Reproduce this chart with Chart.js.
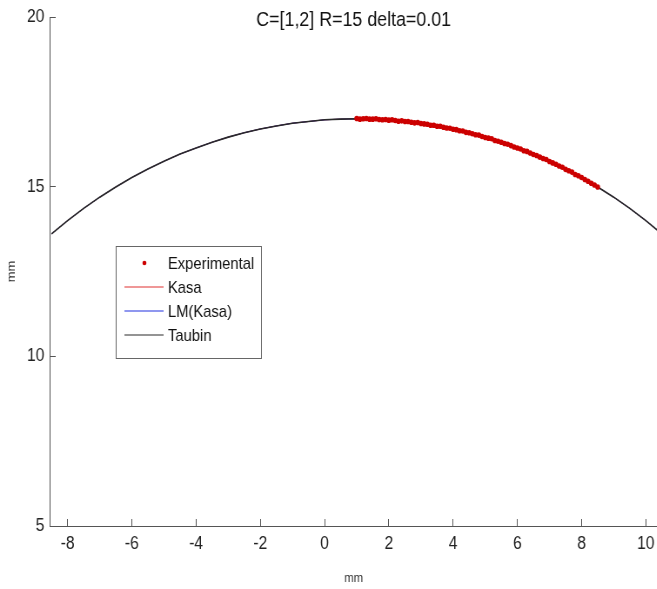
<!DOCTYPE html>
<html>
<head>
<meta charset="utf-8">
<script src="https://cdn.jsdelivr.net/npm/chart.js@4"></script>
<style>
  html, body { margin: 0; padding: 0; background: #fff; overflow: hidden; }
  #wrap { width: 657px; height: 589px; overflow: hidden; }
  /* the figure is drawn wide and squeezed horizontally */
  #fig { width: 760px; height: 589px; transform: scaleX(0.87); transform-origin: 0 0; }
</style>
</head>
<body>
<div id="wrap"><canvas id="fig" width="760" height="589"></canvas></div>
<script>
// Fitted circle curves (mm), sampled every 0.5 mm
const curveX = [-8.5, -8, -7.5, -7, -6.5, -6, -5.5, -5, -4.5, -4, -3.5, -3, -2.5, -2, -1.5, -1, -0.5, 0, 0.5,
  1, 1.5, 2, 2.5, 3, 3.5, 4, 4.5, 5, 5.5, 6, 6.5, 7, 7.5, 8, 8.5, 9, 9.5, 10, 10.5];
const kasaY = [13.61, 14.00, 14.36, 14.69, 14.99, 15.27, 15.52, 15.75, 15.96, 16.14, 16.31, 16.46, 16.59, 16.70, 16.79, 16.87, 16.92, 16.97, 16.99,
  17.00, 16.99, 16.97, 16.92, 16.87, 16.79, 16.70, 16.59, 16.46, 16.31, 16.14, 15.96, 15.75, 15.52, 15.27, 14.99, 14.69, 14.36, 14.00, 13.61];
const lmY = [13.61, 14.00, 14.36, 14.69, 14.99, 15.27, 15.52, 15.75, 15.96, 16.14, 16.31, 16.46, 16.59, 16.70, 16.79, 16.87, 16.92, 16.97, 16.99,
  17.00, 16.99, 16.97, 16.92, 16.87, 16.79, 16.70, 16.59, 16.46, 16.31, 16.14, 15.96, 15.75, 15.52, 15.27, 14.99, 14.69, 14.36, 14.00, 13.61];
const taubinY = [13.61, 14.00, 14.36, 14.69, 14.99, 15.27, 15.52, 15.75, 15.96, 16.14, 16.31, 16.46, 16.59, 16.70, 16.79, 16.87, 16.92, 16.97, 16.99,
  17.00, 16.99, 16.97, 16.92, 16.87, 16.79, 16.70, 16.59, 16.46, 16.31, 16.14, 15.96, 15.75, 15.52, 15.27, 14.99, 14.69, 14.36, 14.00, 13.61];

// Measured points on the arc
const expX = [1.0, 1.1, 1.2, 1.3, 1.4, 1.5, 1.6, 1.7, 1.8, 1.9, 2.0, 2.1, 2.2, 2.3, 2.4, 2.5, 2.6, 2.7, 2.8, 2.9,
  3.0, 3.1, 3.2, 3.3, 3.4, 3.5, 3.6, 3.7, 3.8, 3.9, 4.0, 4.1, 4.2, 4.3, 4.4, 4.5, 4.6, 4.7, 4.8, 4.9,
  5.0, 5.1, 5.2, 5.3, 5.4, 5.5, 5.6, 5.7, 5.8, 5.9, 6.0, 6.1, 6.2, 6.3, 6.4, 6.5, 6.6, 6.7, 6.8, 6.9,
  7.0, 7.1, 7.2, 7.3, 7.4, 7.5, 7.6, 7.7, 7.8, 7.9, 8.0, 8.1, 8.2, 8.3, 8.4, 8.5];
const expY = [17.01, 16.99, 17.00, 17.01, 16.99, 16.99, 17.00, 16.98, 16.97, 16.98, 16.96, 16.97, 16.95, 16.93, 16.94, 16.92, 16.92, 16.90, 16.88, 16.89,
  16.86, 16.85, 16.84, 16.81, 16.81, 16.78, 16.78, 16.75, 16.73, 16.72, 16.69, 16.68, 16.65, 16.64, 16.60, 16.59, 16.56, 16.53, 16.52, 16.48,
  16.45, 16.43, 16.41, 16.36, 16.34, 16.31, 16.27, 16.25, 16.21, 16.17, 16.14, 16.11, 16.06, 16.04, 15.99, 15.95, 15.92, 15.87, 15.83, 15.80,
  15.74, 15.70, 15.66, 15.61, 15.57, 15.51, 15.47, 15.43, 15.36, 15.32, 15.27, 15.21, 15.16, 15.10, 15.05, 14.99];

const xTicks = [-8, -6, -4, -2, 0, 2, 4, 6, 8, 10];
const yTicks = [5, 10, 15, 20];
const titleText = 'C=[1,2] R=15 delta=0.01';

const FONT = "'Liberation Sans', Arial, Helvetica, sans-serif";
const AXIS = '#555';

const pts = (xs, ys) => xs.map((x, i) => ({ x: x, y: ys[i] }));

// title + boxed legend drawn inside the axes
const figureDecor = {
  id: 'figureDecor',
  afterDraw(chart) {
    const ctx = chart.ctx;
    const a = chart.chartArea;
    ctx.save();
    ctx.fillStyle = '#111';
    ctx.font = '20.5px ' + FONT;
    ctx.textAlign = 'center';
    ctx.textBaseline = 'middle';
    ctx.fillText(titleText, (a.left + a.right) / 2, 20);

    // legend box
    const bx = 133, by = 246, bw = 167, bh = 112;
    ctx.fillStyle = '#fff';
    ctx.fillRect(bx, by, bw, bh);
    ctx.strokeStyle = '#666';
    ctx.lineWidth = 1;
    ctx.strokeRect(bx + 0.5, by + 0.5, bw, bh);
    ctx.font = '17px ' + FONT;
    ctx.textAlign = 'left';
    chart.data.datasets.forEach((ds, i) => {
      const y = 263 + i * 24;
      if (ds.showLine) {
        ctx.strokeStyle = ds.borderColor;
        ctx.lineWidth = 1.2;
        ctx.beginPath();
        ctx.moveTo(143, y);
        ctx.lineTo(188, y);
        ctx.stroke();
      } else {
        ctx.fillStyle = ds.pointBackgroundColor;
        ctx.beginPath();
        ctx.arc(166, y, 2.3, 0, Math.PI * 2);
        ctx.fill();
      }
      ctx.fillStyle = '#111';
      ctx.fillText(ds.label, 193, y + 1);
    });
    ctx.restore();
  }
};

const ctx = document.getElementById('fig').getContext('2d');
new Chart(ctx, {
  type: 'scatter',
  data: {
    datasets: [
      {
        label: 'Experimental',
        data: pts(expX, expY),
        showLine: false,
        pointRadius: 2.8,
        pointBorderWidth: 0,
        pointBackgroundColor: '#cc0000',
        order: 0
      },
      {
        label: 'Kasa',
        data: pts(curveX, kasaY),
        showLine: true,
        borderColor: '#e03030',
        borderWidth: 1,
        pointRadius: 0,
        order: 3
      },
      {
        label: 'LM(Kasa)',
        data: pts(curveX, lmY),
        showLine: true,
        borderColor: '#2030e0',
        borderWidth: 1,
        pointRadius: 0,
        order: 2
      },
      {
        label: 'Taubin',
        data: pts(curveX, taubinY),
        showLine: true,
        borderColor: '#2a2a2a',
        borderWidth: 1.6,
        pointRadius: 0,
        order: 1
      }
    ]
  },
  options: {
    responsive: false,
    animation: false,
    devicePixelRatio: 1,
    layout: { padding: { top: 17, left: 0, right: 0, bottom: 0 } },
    plugins: {
      legend: { display: false },
      title: { display: false },
      tooltip: { enabled: false }
    },
    scales: {
      x: {
        type: 'linear',
        min: -8.56,
        max: 10.37,
        afterBuildTicks: s => { s.ticks = xTicks.map(v => ({ value: v })); },
        afterFit: s => { s.height = 63; s.paddingLeft = 0; s.paddingRight = 0; },
        grid: { drawOnChartArea: false, tickLength: -7, color: AXIS },
        border: { color: AXIS, width: 1 },
        ticks: { color: '#222', font: { family: FONT, size: 18 }, padding: 14, maxRotation: 0 },
        title: { display: true, text: 'mm', color: '#333', font: { family: FONT, size: 13 }, padding: { top: 0, bottom: 3 } }
      },
      y: {
        type: 'linear',
        min: 5,
        max: 20,
        afterBuildTicks: s => { s.ticks = yTicks.map(v => ({ value: v })); },
        afterFit: s => { s.width = 57; s.paddingTop = 0; s.paddingBottom = 0; },
        grid: { drawOnChartArea: false, tickLength: -7, color: AXIS },
        border: { color: AXIS, width: 1 },
        ticks: { color: '#222', font: { family: FONT, size: 18 }, padding: 13 },
        title: { display: true, text: 'mm', color: '#333', font: { family: FONT, size: 13 }, padding: { top: 6, bottom: 0 } }
      }
    }
  },
  plugins: [figureDecor]
});
</script>
</body>
</html>
